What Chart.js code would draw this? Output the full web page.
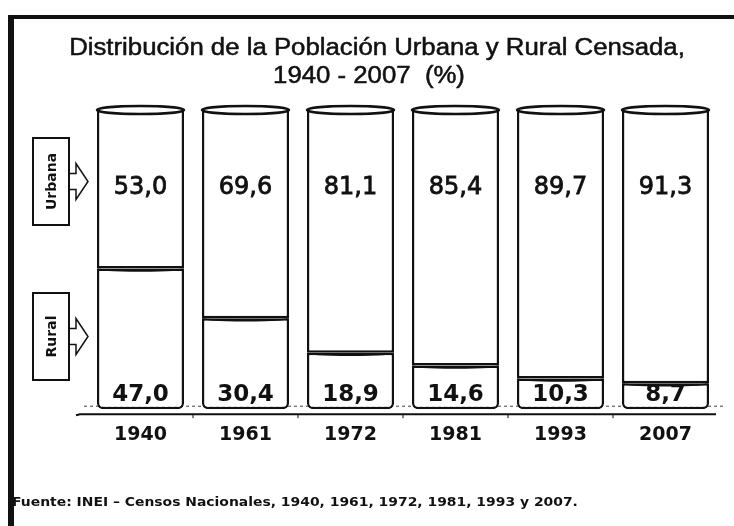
<!DOCTYPE html>
<html>
<head>
<meta charset="utf-8">
<script src="https://cdn.jsdelivr.net/npm/chart.js@4.4.1/dist/chart.umd.min.js"></script>
<style>
  html, body { margin: 0; padding: 0; background: #fff; }
  #wrap { width: 734px; height: 526px; }
</style>
</head>
<body>
<div id="wrap"><canvas id="grafico" width="734" height="526"></canvas></div>
<script>
// Datos (%)
const anios = ['1940', '1961', '1972', '1981', '1993', '2007'];
const rural = [47.0, 30.4, 18.9, 14.6, 10.3, 8.7];
const urbana = [53.0, 69.6, 81.1, 85.4, 89.7, 91.3];

const tituloLineas = ['Distribución de la Población Urbana y Rural Censada,', '1940 - 2007  (%)'];
const fuente = 'Fuente: INEI – Censos Nacionales, 1940, 1961, 1972, 1981, 1993 y 2007.';

const negro = '#111';
const fmt = v => v.toFixed(1).replace('.', ',');

// texto ensanchado horizontalmente (el original esta estirado)
const textoAncho = (ctx, texto, x, y, escala, grosor) => {
    ctx.save();
    ctx.translate(x, y);
    ctx.scale(escala, 1);
    ctx.fillText(texto, 0, 0);
    if (grosor) {
        ctx.strokeStyle = negro;
        ctx.lineWidth = grosor;
        ctx.strokeText(texto, 0, 0);
    }
    ctx.restore();
};

// caja lateral con flecha (Urbana / Rural)
const etiquetaLateral = (ctx, texto, y0, y1) => {
    const x0 = 33, x1 = 69;
    const mid = (y0 + y1) / 2;
    ctx.save();
    ctx.strokeStyle = negro;
    ctx.lineWidth = 2;
    ctx.strokeRect(x0, y0, x1 - x0, y1 - y0);
    // flecha abierta
    ctx.beginPath();
    ctx.moveTo(x1, mid - 8);
    ctx.lineTo(76, mid - 8);
    ctx.lineTo(76, mid - 18);
    ctx.lineTo(88, mid);
    ctx.lineTo(76, mid + 18);
    ctx.lineTo(76, mid + 8);
    ctx.lineTo(x1, mid + 8);
    ctx.lineWidth = 1.5;
    ctx.stroke();
    ctx.translate((x0 + x1) / 2, mid);
    ctx.rotate(-Math.PI / 2);
    ctx.fillStyle = negro;
    ctx.font = 'bold 14px "DejaVu Sans"';
    ctx.textAlign = 'center';
    ctx.textBaseline = 'middle';
    ctx.fillText(texto, 0, 1);
    ctx.restore();
};

const decoracion = {
    id: 'decoracion',
    beforeDatasetsDraw(chart) {
        const { ctx, chartArea } = chart;
        // borde trasero del piso
        ctx.save();
        ctx.strokeStyle = '#444';
        ctx.lineWidth = 1;
        ctx.setLineDash([3, 3]);
        ctx.beginPath();
        ctx.moveTo(chartArea.left - 4, chartArea.bottom - 3);
        ctx.lineTo(chartArea.right + 8, chartArea.bottom - 3);
        ctx.stroke();
        ctx.restore();
    },
    afterDatasetsDraw(chart) {
        const { ctx, chartArea } = chart;
        const metaR = chart.getDatasetMeta(0);
        const metaU = chart.getDatasetMeta(1);

        ctx.save();
        // tapas de los cilindros y divisiones curvas
        metaU.data.forEach((bar) => {
            const w = bar.width;
            ctx.beginPath();
            ctx.ellipse(bar.x, bar.y, w / 2, 4, 0, 0, Math.PI * 2);
            ctx.fillStyle = '#fff';
            ctx.fill();
            ctx.strokeStyle = negro;
            ctx.lineWidth = 2.5;
            ctx.stroke();
        });
        metaR.data.forEach((bar) => {
            const w = bar.width;
            ctx.beginPath();
            ctx.ellipse(bar.x, bar.y, w / 2 - 1, 2.5, 0, 0, Math.PI);
            ctx.strokeStyle = negro;
            ctx.lineWidth = 1.5;
            ctx.stroke();
        });

        // valores
        ctx.fillStyle = negro;
        ctx.strokeStyle = negro;
        ctx.textAlign = 'center';
        ctx.textBaseline = 'middle';
        ctx.font = '24px "DejaVu Sans"';
        ctx.lineWidth = 0.8;
        metaU.data.forEach((bar, i) => {
            ctx.fillText(fmt(urbana[i]), bar.x, chartArea.top + 78);
            ctx.strokeText(fmt(urbana[i]), bar.x, chartArea.top + 78);
        });
        ctx.font = 'bold 23px "DejaVu Sans"';
        metaR.data.forEach((bar, i) => {
            ctx.fillText(fmt(rural[i]), bar.x, chartArea.bottom - 14);
        });

        // linea del piso
        const yPiso = chartArea.bottom + 5;
        ctx.strokeStyle = negro;
        ctx.lineWidth = 2;
        ctx.beginPath();
        ctx.moveTo(chartArea.left - 12, yPiso + 1);
        ctx.lineTo(chartArea.left - 8, yPiso);
        ctx.lineTo(chartArea.right - 2, yPiso);
        ctx.stroke();
        ctx.lineWidth = 1;
        const paso = (chartArea.right - chartArea.left) / anios.length;
        for (let i = 1; i < anios.length; i++) {
            const x = chartArea.left + paso * i;
            ctx.beginPath();
            ctx.moveTo(x, yPiso);
            ctx.lineTo(x, yPiso + 4);
            ctx.stroke();
        }
        ctx.restore();
    },
    afterDraw(chart) {
        const { ctx } = chart;
        ctx.save();
        // marco
        ctx.fillStyle = negro;
        ctx.fillRect(8, 15, 726, 4);
        ctx.fillRect(8, 15, 6, 511);

        // titulo
        ctx.fillStyle = negro;
        ctx.textAlign = 'center';
        ctx.textBaseline = 'alphabetic';
        ctx.font = '23px "Liberation Sans"';
        textoAncho(ctx, tituloLineas[0], 377, 55, 1.12, 0.5);
        textoAncho(ctx, tituloLineas[1], 369, 83, 1.12, 0.5);

        // etiquetas laterales
        etiquetaLateral(ctx, 'Urbana', 138, 225);
        etiquetaLateral(ctx, 'Rural', 293, 380);

        // fuente
        ctx.textAlign = 'left';
        ctx.textBaseline = 'middle';
        ctx.font = 'bold 12px "DejaVu Sans"';
        textoAncho(ctx, fuente, 12, 503, 1.16);
        ctx.restore();
    }
};

const ctx = document.getElementById('grafico').getContext('2d');
new Chart(ctx, {
    type: 'bar',
    data: {
        labels: anios,
        datasets: [
            {
                label: 'Rural',
                data: rural,
                backgroundColor: '#fff',
                borderColor: negro,
                borderWidth: 2.5,
                borderSkipped: false,
                borderRadius: { topLeft: 0, topRight: 0, bottomLeft: 6, bottomRight: 6 },
                categoryPercentage: 1,
                barPercentage: 0.83
            },
            {
                label: 'Urbana',
                data: urbana,
                backgroundColor: '#fff',
                borderColor: negro,
                borderWidth: 2.5,
                borderSkipped: false,
                borderRadius: 0,
                categoryPercentage: 1,
                barPercentage: 0.83
            }
        ]
    },
    options: {
        responsive: false,
        animation: false,
        layout: { padding: { left: 88, right: 16, top: 110, bottom: 66 } },
        plugins: {
            legend: { display: false },
            title: { display: false },
            tooltip: { enabled: false }
        },
        scales: {
            x: {
                stacked: true,
                grid: { display: false, drawTicks: false },
                border: { display: false },
                ticks: {
                    color: negro,
                    padding: 14,
                    font: { family: 'DejaVu Sans', weight: 'bold', size: 19 }
                }
            },
            y: {
                stacked: true,
                display: false,
                min: 0,
                max: 100
            }
        }
    },
    plugins: [decoracion]
});
</script>
</body>
</html>
